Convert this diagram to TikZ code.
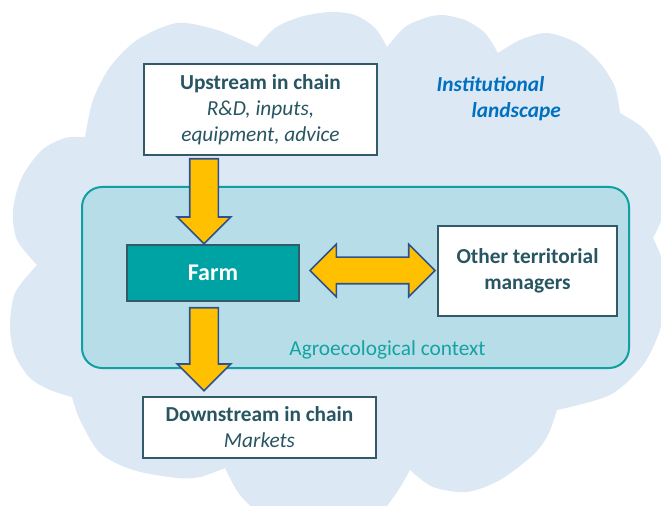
\documentclass[tikz,border=0pt]{standalone}
\usepackage{fontspec}
\setmainfont{Carlito}
\usetikzlibrary{shapes.arrows}
\definecolor{cloudblue}{RGB}{221,232,245}
\definecolor{agrofill}{RGB}{183,222,232}
\definecolor{agroline}{RGB}{16,160,160}
\definecolor{farmfill}{RGB}{0,163,163}
\definecolor{boxline}{RGB}{50,90,105}
\definecolor{boxtext}{RGB}{40,85,98}
\definecolor{arrowfill}{RGB}{255,192,0}
\definecolor{arrowline}{RGB}{47,82,143}
\definecolor{instblue}{RGB}{0,112,192}
\definecolor{agrotext}{RGB}{20,163,163}
\begin{document}
\begin{tikzpicture}[x=0.75pt,y=-0.75pt,font=\fontsize{16pt}{19.5pt}\selectfont,
box node/.style={draw=boxline,line width=1pt,fill=white,text=boxtext,align=center,inner sep=0pt},
block arrow/.style={single arrow,draw=arrowline,fill=arrowfill,line width=1.2pt,inner xsep=0pt,inner ysep=10.125pt,single arrow head extend=9.4pt,rotate=-90,anchor=tail}]
\useasboundingbox (0,0) rectangle (661,506);
% cloud
\fill[cloudblue] (85,137)
 -- plot[smooth] coordinates {(85,137) (93,100) (110,67) (137,40) (177,23) (217,30) (257,47)}
 -- plot[smooth] coordinates {(257,47) (275,28) (300,17) (330,12) (355,15) (375,28) (387,47)}
 -- plot[smooth] coordinates {(387,47) (405,27) (425,18) (442,15) (465,20) (485,33) (498,53)}
 -- plot[smooth] coordinates {(498,53) (520,40) (547,33) (577,43) (600,63) (615,87) (620,113)}
 -- plot[smooth] coordinates {(620,113) (643,128) (658,150) (666,180) (663,215) (653,238)}
 -- plot[smooth] coordinates {(653,238) (662,260) (666,295) (660,330) (643,365) (610,395) (557,410)}
 -- plot[smooth] coordinates {(557,410) (548,435) (533,455) (500,480) (467,492) (433,487) (410,470)}
 -- plot[smooth] coordinates {(410,470) (395,495) (375,515) (320,525) (265,515) (240,495) (225,468)}
 -- plot[smooth] coordinates {(225,468) (200,477) (177,478) (133,470) (100,453) (80,420) (72,397)}
 -- plot[smooth] coordinates {(72,397) (50,390) (30,378) (15,355) (10,327) (15,293) (37,265)}
 -- plot[smooth] coordinates {(37,265) (17,240) (13,210) (22,177) (42,150) (65,138) (85,137)}
 -- cycle;
\node[text=instblue,anchor=base west] (inst) at (432,92) {\textbf{\textit{Institutional}}};
\node[text=instblue,anchor=base west] (land) at (467,118) {\textbf{\textit{landscape}}};
% agroecological context
\node[draw=agroline,line width=1.5pt,fill=agrofill,rounded corners=15pt,minimum width=410.25pt,minimum height=135.75pt] (agro) at (355.5,277.5) {};
\node[text=agrotext,anchor=base] (agrolabel) at (387.5,355) {Agroecological context};
% arrows
\node[block arrow,minimum height=63.75pt] (upfarm) at (204,158) {};
\node[block arrow,minimum height=62.25pt] (farmdown) at (204,307) {};
\node[double arrow,draw=arrowline,fill=arrowfill,line width=1.2pt,inner xsep=0pt,inner ysep=9.375pt,double arrow head extend=9.75pt,minimum height=93.75pt] (farmother) at (372.5,270.5) {};
% boxes
\node[box node,minimum width=174.75pt,minimum height=68.25pt] (up) at (260.5,109.5) {\textbf{Upstream in chain}\\\textit{R\&D, inputs,}\\\textit{equipment, advice}};
\node[box node,fill=farmfill,text=white,minimum width=129pt,minimum height=42pt,font=\fontsize{18pt}{22pt}\selectfont] (farm) at (213,273) {\textbf{Farm}};
\node[box node,minimum width=134.25pt,minimum height=67.5pt] (other) at (527.5,271) {\textbf{Other territorial}\\\textbf{managers}};
\node[box node,minimum width=174.75pt,minimum height=45.75pt] (down) at (259.5,427.5) {\textbf{Downstream in chain}\\\textit{Markets}};
\end{tikzpicture}
\end{document}
